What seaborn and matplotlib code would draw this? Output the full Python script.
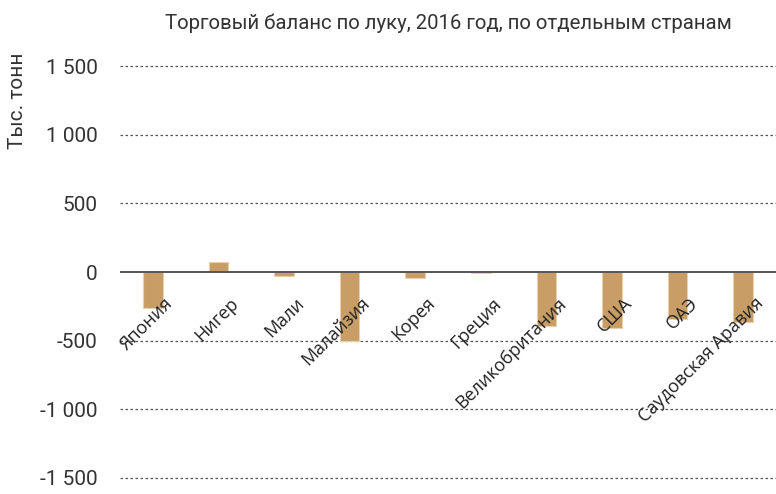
import numpy as np
import matplotlib
matplotlib.use("Agg")
import matplotlib.pyplot as plt
import seaborn as sns

# onion trade balance, 2016, thousand tonnes
countries = ["Япония", "Нигер", "Мали", "Малайзия", "Корея", "Греция",
             "Великобритания", "США", "ОАЭ", "Саудовская Аравия"]
balance = [-265, 75, -30, -500, -45, -5, -390, -410, -345, -365]

yticks = [-1500, -1000, -500, 0, 500, 1000, 1500]
ytick_labels = ["-1 500", "-1 000", "-500", "0", "500", "1 000", "1 500"]

title = "Торговый баланс по луку, 2016 год, по отдельным странам"
ylabel = "Тыс. тонн"

bar_color = "#c99e66"
text_color = "#333333"

sns.set_theme(style="white")
plt.rcParams["font.family"] = ["Roboto", "DejaVu Sans"]

fig = plt.figure(figsize=(7.76, 4.94), dpi=100)
ax = fig.add_axes([120 / 776, 14 / 494, 656 / 776, 416 / 494])

sns.barplot(x=countries, y=balance, color=bar_color, saturation=1,
            width=0.3, edgecolor="#e8cfae", linewidth=0.8, ax=ax, zorder=3)

ax.set_ylim(-1515, 1515)
ax.set_xlim(-0.5, len(countries) - 0.5)

for y in yticks:
    if y == 0:
        ax.axhline(y, color="#555555", lw=1.4, zorder=4)
    else:
        ax.axhline(y, color="#555555", lw=0.9, ls=(0, (2, 2)), zorder=1)

ax.set_yticks(yticks)
ax.set_yticklabels(ytick_labels, fontsize=15, color=text_color)
ax.tick_params(axis="y", length=0, pad=16)
ax.set_xticks([])
ax.set_xlabel("")
ax.set_ylabel("")
sns.despine(ax=ax, left=True, bottom=True)

for i, name in enumerate(countries):
    ax.text(i + 0.32, -235, name, rotation=45, rotation_mode="anchor",
            ha="right", va="baseline", fontsize=13, color="#222222",
            family=["Open Sans", "DejaVu Sans"])

ax.set_title(title, fontsize=14.7, color=text_color, pad=25)
fig.text(18 / 776, 1 - 101 / 494, ylabel, rotation=90, ha="center", va="center",
         fontsize=15, color=text_color)

fig.savefig("out.png", dpi=100)
